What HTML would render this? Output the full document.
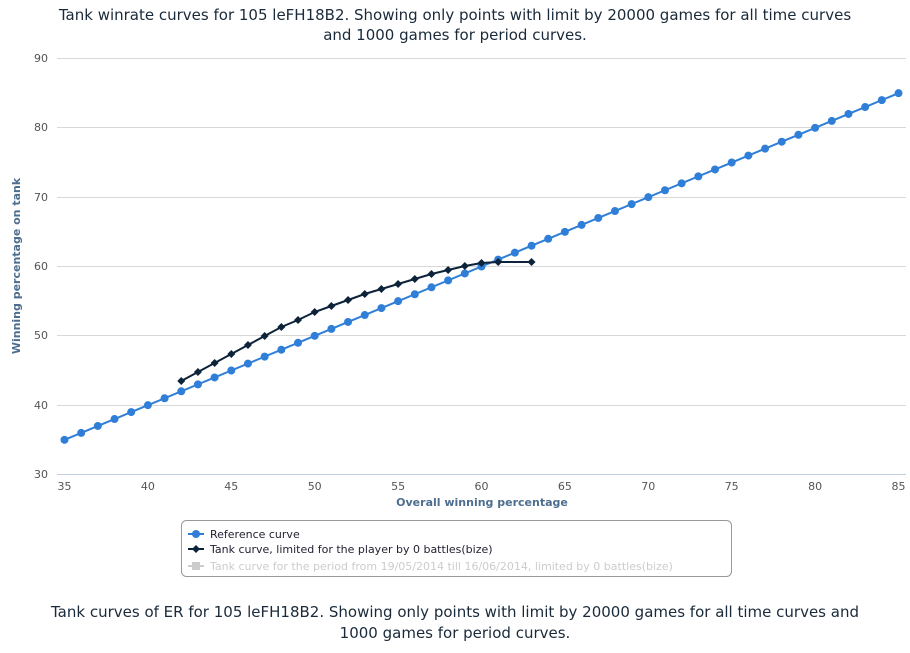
<!DOCTYPE html>
<html><head><meta charset="utf-8"><style>
body{margin:0;background:#fff;width:910px;height:649px;overflow:hidden;font-family:"DejaVu Sans","Liberation Sans",sans-serif}
</style></head><body>
<svg width="910" height="649" xmlns="http://www.w3.org/2000/svg" font-family="DejaVu Sans, Liberation Sans, sans-serif">
<text x="455" y="20" text-anchor="middle" font-size="15" fill="#1a2a3a">Tank winrate curves for 105 leFH18B2. Showing only points with limit by 20000 games for all time curves</text>
<text x="455" y="40" text-anchor="middle" font-size="15" fill="#1a2a3a">and 1000 games for period curves.</text>
<g stroke="#d8d8d8" stroke-width="1">
<line x1="57" x2="906" y1="58.5" y2="58.5"/><line x1="57" x2="906" y1="127.5" y2="127.5"/><line x1="57" x2="906" y1="197.5" y2="197.5"/><line x1="57" x2="906" y1="266.5" y2="266.5"/><line x1="57" x2="906" y1="335.5" y2="335.5"/><line x1="57" x2="906" y1="405.5" y2="405.5"/>
</g>
<line x1="57" x2="906" y1="474.5" y2="474.5" stroke="#c0d0e0"/>
<g font-size="11" fill="#555" text-anchor="end">
<text x="48" y="62">90</text><text x="48" y="131">80</text><text x="48" y="201">70</text><text x="48" y="270">60</text><text x="48" y="339">50</text><text x="48" y="409">40</text><text x="48" y="478">30</text>
</g>
<g font-size="11" fill="#555" text-anchor="middle" id="xt"></g>
<text x="482" y="506" text-anchor="middle" font-size="11" font-weight="bold" fill="#4d6e8e">Overall winning percentage</text>
<text transform="translate(20,266) rotate(-90)" text-anchor="middle" font-size="11" font-weight="bold" fill="#4d6e8e">Winning percentage on tank</text>
<g id="ref"></g>
<g id="tank"></g>
<rect x="181.5" y="520.5" width="550" height="56" rx="5" fill="#fff" stroke="#999"/>
<line x1="188" x2="204" y1="534" y2="534" stroke="#2f7ed8" stroke-width="2"/><circle cx="196" cy="534" r="4" fill="#2f7ed8"/>
<text x="210" y="538" font-size="11" fill="#223">Reference curve</text>
<line x1="188" x2="204" y1="549" y2="549" stroke="#0d233a" stroke-width="2"/><path d="M196 545 L200 549 L196 553 L192 549Z" fill="#0d233a"/>
<text x="210" y="553" font-size="11" fill="#223">Tank curve, limited for the player by 0 battles(bize)</text>
<line x1="188" x2="204" y1="566" y2="566" stroke="#ccc" stroke-width="2"/><rect x="192" y="562" width="8" height="8" fill="#ccc"/>
<text x="210" y="570" font-size="11" fill="#ccc">Tank curve for the period from 19/05/2014 till 16/06/2014, limited by 0 battles(bize)</text>
<text x="455" y="617" text-anchor="middle" font-size="15" fill="#1a2a3a">Tank curves of ER for 105 leFH18B2. Showing only points with limit by 20000 games for all time curves and</text>
<text x="455" y="638" text-anchor="middle" font-size="15" fill="#1a2a3a">1000 games for period curves.</text>
</svg>
<script>
const NS="http://www.w3.org/2000/svg";
const X=v=>64.5+(v-35)*16.68, Y=v=>474.5-(v-30)*6.933;
const xt=document.getElementById('xt');
for(let v=35;v<=85;v+=5){const t=document.createElementNS(NS,'text');t.setAttribute('x',X(v));t.setAttribute('y',490);t.textContent=v;xt.appendChild(t);}
const ref=document.getElementById('ref');let d='';
for(let v=35;v<=85;v++){d+=(v==35?'M':'L')+X(v)+' '+Y(v);}
let p=document.createElementNS(NS,'path');p.setAttribute('d',d);p.setAttribute('stroke','#2f7ed8');p.setAttribute('stroke-width','2');p.setAttribute('fill','none');ref.appendChild(p);
for(let v=35;v<=85;v++){const c=document.createElementNS(NS,'circle');c.setAttribute('cx',X(v));c.setAttribute('cy',Y(v));c.setAttribute('r',4);c.setAttribute('fill','#2f7ed8');ref.appendChild(c);}
const tp=[[42,381],[43,372],[44,363],[45,354],[46,345],[47,336],[48,327],[49,320],[50,312],[51,306],[52,300],[53,294],[54,289],[55,284],[56,279],[57,274],[58,270],[59,266],[60,263],[61,262],[63,262]];
const tank=document.getElementById('tank');d='';
tp.forEach((q,i)=>{d+=(i?'L':'M')+X(q[0])+' '+q[1];});
p=document.createElementNS(NS,'path');p.setAttribute('d',d);p.setAttribute('stroke','#0d233a');p.setAttribute('stroke-width','2');p.setAttribute('fill','none');tank.appendChild(p);
tp.forEach(q=>{const x=X(q[0]),y=q[1];const m=document.createElementNS(NS,'path');m.setAttribute('d',`M${x} ${y-4}L${x+4} ${y}L${x} ${y+4}L${x-4} ${y}Z`);m.setAttribute('fill','#0d233a');tank.appendChild(m);});
</script>
</body></html>
